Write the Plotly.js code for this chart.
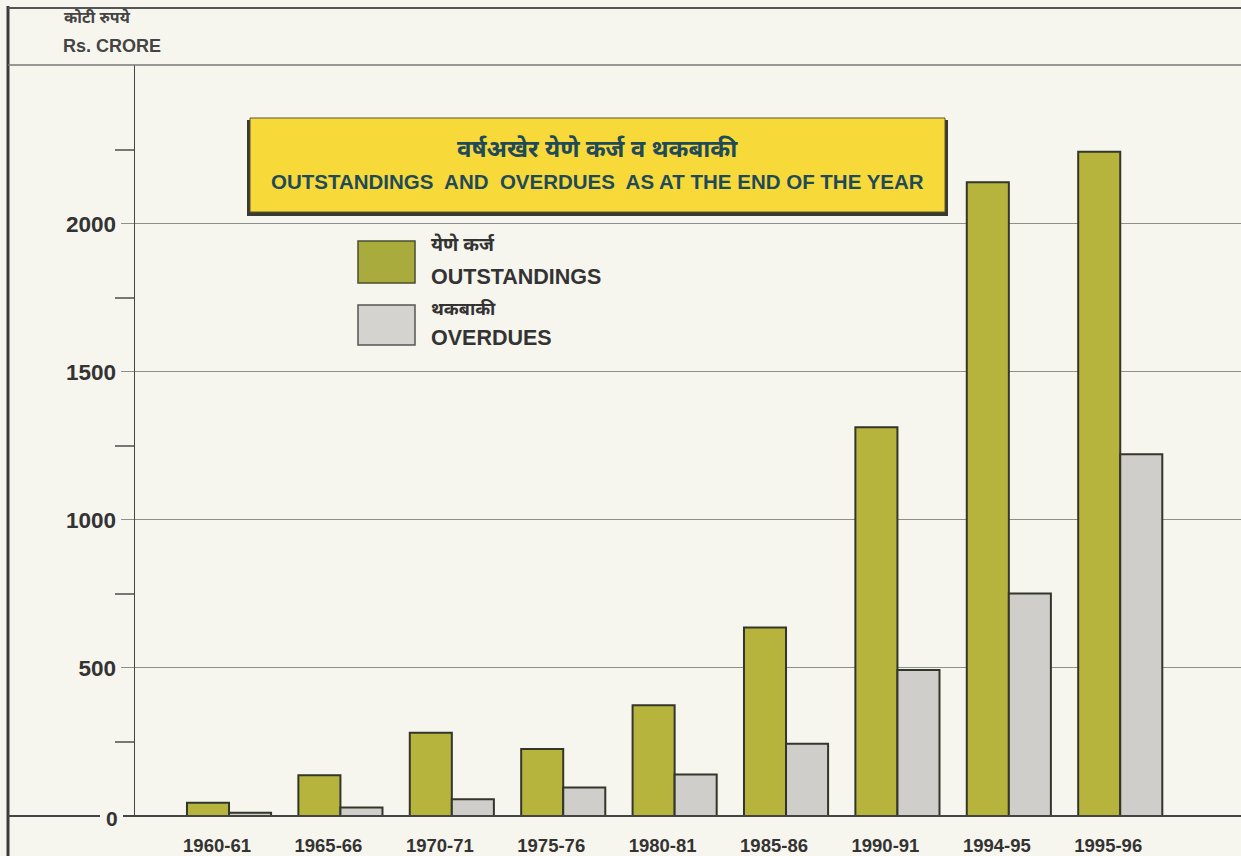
<!DOCTYPE html>
<html>
<head>
<meta charset="utf-8">
<script src="https://cdn.plot.ly/plotly-3.0.1.min.js"></script>
<style>
html,body{margin:0;padding:0;background:#f7f6ee;}
#chart{width:1241px;height:856px;}
</style>
</head>
<body>
<div id="chart"></div>
<script>
// ---- data ----
const years = ['1960-61','1965-66','1970-71','1975-76','1980-81','1985-86','1990-91','1994-95','1995-96'];
const outstandings = [45, 138, 281, 226, 374, 637, 1313, 2141, 2244];
const overdues = [11, 29, 57, 96, 140, 244, 493, 752, 1222];
const yTickVals = [500, 1000, 1500, 2000];
const yMinorVals = [250, 750, 1250, 1750, 2250];

const nameOutHi = 'येणे कर्ज';
const nameOutEn = 'OUTSTANDINGS';
const nameOvdHi = 'थकबाकी';
const nameOvdEn = 'OVERDUES';
const titleHi = 'वर्षअखेर येणे कर्ज व थकबाकी';
const titleEn = 'OUTSTANDINGS  AND  OVERDUES  AS AT THE END OF THE YEAR';
const unitHi = 'कोटी रुपये';
const unitEn = 'Rs. CRORE';

// ---- layout geometry helpers (pixels -> paper) ----
const W = 1241, H = 856;
const mL = 135, mR = 0, mT = 65, mB = 40;
const pw = W - mL - mR, ph = H - mT - mB;
const px = x => (x - mL) / pw;
const py = y => (H - mB - y) / ph;

const FONT = '"Liberation Sans", Arial, "Noto Sans Devanagari", "Noto Sans", sans-serif';
const DEV = '"Noto Sans Devanagari", "Noto Sans", "Liberation Sans", sans-serif';

const outColor = '#b7b43e';
const ovdColor = '#cfcecb';
const edge = '#33362a';

const traces = [
  {type:'bar', x: years, y: outstandings, name: nameOutEn,
   marker:{color: outColor, line:{color: edge, width: 2}}, hoverinfo:'x+y'},
  {type:'bar', x: years, y: overdues, name: nameOvdEn,
   marker:{color: ovdColor, line:{color: edge, width: 2}}, hoverinfo:'x+y'}
];

const shapes = [
  // page frame
  {type:'line', xref:'paper', yref:'paper', x0:px(8), x1:px(8), y0:py(6), y1:py(856), line:{color:'#3a3a3a', width:3}},
  {type:'line', xref:'paper', yref:'paper', x0:px(8), x1:px(1241), y0:py(8), y1:py(8), line:{color:'#555', width:2}},
  {type:'line', xref:'paper', yref:'paper', x0:px(8), x1:px(1241), y0:py(65), y1:py(65), line:{color:'#777', width:1.5}},
  // baseline with gap for the zero label
  {type:'line', xref:'paper', yref:'paper', x0:px(8), x1:px(100), y0:0, y1:0, line:{color:'#444', width:2}},
  {type:'line', xref:'paper', yref:'paper', x0:px(123), x1:1, y0:0, y1:0, line:{color:'#444', width:2}},
  // title box: shadow then yellow panel
  {type:'rect', xref:'paper', yref:'paper', x0:px(247), x1:px(948), y0:py(216), y1:py(120), fillcolor:'#3a3a30', line:{width:0}},
  {type:'rect', xref:'paper', yref:'paper', x0:px(250), x1:px(945), y0:py(212), y1:py(118), fillcolor:'#f8d93a', line:{color:'#5a5530', width:1}},
  // legend swatches
  {type:'rect', xref:'paper', yref:'paper', x0:px(358), x1:px(415), y0:py(283), y1:py(241), fillcolor:'#a9ab3c', line:{color:'#4a4d30', width:1.5}},
  {type:'rect', xref:'paper', yref:'paper', x0:px(358), x1:px(415), y0:py(345), y1:py(305), fillcolor:'#d4d3cf', line:{color:'#555', width:1.5}}
];

const ann = (text, x, y, opts) => Object.assign({
  text, xref:'paper', yref:'paper', x:px(x), y:py(y), showarrow:false,
  xanchor:'left', yanchor:'middle', font:{family:FONT, size:15, color:'#333'}
}, opts || {});

const annotations = [
  ann('<b>'+unitHi+'</b>', 62, 19, {font:{family:DEV, size:16, color:'#444'}}),
  ann('<b>'+unitEn+'</b>', 61, 46, {font:{family:FONT, size:18, color:'#444'}}),
  ann('<b>'+titleHi+'</b>', 597, 151, {xanchor:'center', font:{family:DEV, size:24, color:'#1f4a58'}}),
  ann('<b>'+titleEn+'</b>', 597, 181, {xanchor:'center', font:{family:FONT, size:20.5, color:'#1f4a58'}}),
  ann('<b>'+nameOutHi+'</b>', 429, 246, {font:{family:DEV, size:19, color:'#333'}}),
  ann('<b>'+nameOutEn+'</b>', 429, 277, {font:{family:FONT, size:21.5, color:'#333'}}),
  ann('<b>'+nameOvdHi+'</b>', 429, 310, {font:{family:DEV, size:18, color:'#333'}}),
  ann('<b>'+nameOvdEn+'</b>', 429, 338, {font:{family:FONT, size:21.5, color:'#333'}}),
  ann('<b>0</b>', 112, 818, {xanchor:'center', font:{family:FONT, size:21, color:'#333'}})
];

const layout = {
  width: W, height: H,
  margin:{l:mL, r:mR, t:mT, b:mB, pad:0},
  paper_bgcolor:'#f7f6ee', plot_bgcolor:'#f7f6ee',
  showlegend:false,
  barmode:'group', bargap:0.245, bargroupgap:0,
  font:{family:FONT, color:'#333'},
  xaxis:{
    type:'category', range:[-0.844, 9.084],
    showgrid:false, showline:false, zeroline:false, ticks:'',
    ticklabelstandoff:16, ticklabelshift:-12,
    tickfont:{family:FONT, size:18.5, color:'#333', weight:'bold'}
  },
  yaxis:{
    range:[0, 2537], tickvals:yTickVals, ticktext:yTickVals.map(String),
    showgrid:true, gridcolor:'#8e8e8a', gridwidth:1,
    zeroline:false, showline:true, linecolor:'#444', linewidth:1.5,
    ticks:'outside', ticklen:13, tickcolor:'#8e8e8a', tickwidth:1,
    tickfont:{family:FONT, size:22.5, color:'#333', weight:'bold'},
    minor:{tickvals:yMinorVals, ticks:'outside', ticklen:19, tickcolor:'#777', tickwidth:1.5, showgrid:false}
  },
  shapes, annotations
};

Plotly.newPlot('chart', traces, layout, {displayModeBar:false, staticPlot:true});
</script>
</body>
</html>
